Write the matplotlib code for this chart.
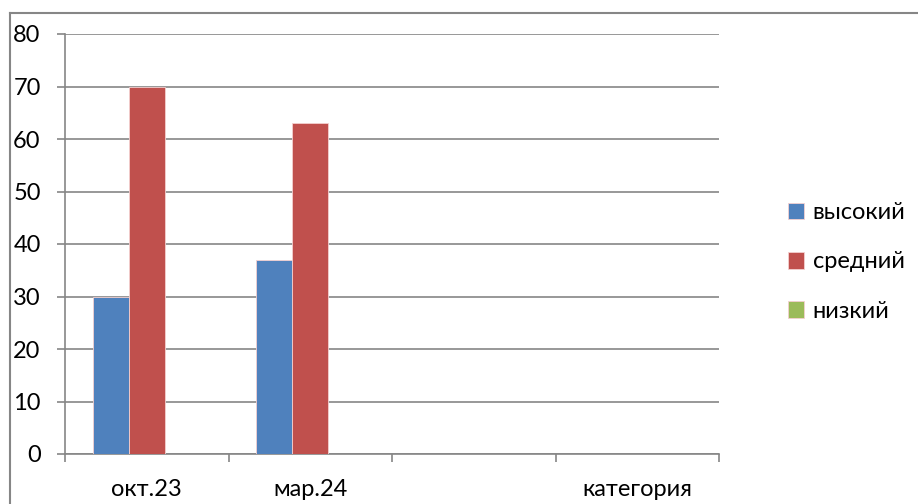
import matplotlib
matplotlib.use("Agg")
import matplotlib.pyplot as plt
from matplotlib.lines import Line2D
import numpy as np

categories = ["окт.23", "мар.24", "", "категория"]
series_names = ["высокий", "средний", "низкий"]
vysokiy = [30, 37, 0, 0]
sredniy = [70, 63, 0, 0]
nizkiy = [0, 0, 0, 0]
yticks = [0, 10, 20, 30, 40, 50, 60, 70, 80]

colors = ["#4F81BD", "#C0504D", "#9BBB59"]
gray = "#868686"

plt.rcParams['font.family'] = ['Lato', 'DejaVu Sans']
FS = 17

W, H = 918, 504
fig = plt.figure(figsize=(W / 100, H / 100), dpi=100)
ax = fig.add_axes([65 / W, (H - 454) / H, (719 - 65) / W, (454 - 34) / H])

x = np.arange(len(categories))
w = 0.22
handles = []
for i, (vals, name) in enumerate(zip([vysokiy, sredniy, nizkiy], series_names)):
    b = ax.bar(x + (i - 1) * w, vals, width=w, color=colors[i],
               edgecolor="#f4d0d0", linewidth=0.6, label=name, zorder=3)
    handles.append(b)

ax.set_xlim(-0.5, len(categories) - 0.5)
ax.set_ylim(0, 80)
ax.set_yticks(yticks)
ax.set_yticklabels([str(v) for v in yticks], fontsize=FS)
ax.yaxis.grid(True, color=gray, linewidth=1.2, zorder=0)
ax.set_axisbelow(True)
ax.tick_params(axis='y', length=6, width=1.2, color=gray, pad=11.5)

ax.set_xticks(x)
ax.set_xticklabels(categories, fontsize=FS)
ax.set_xticks(np.arange(len(categories) + 1) - 0.5, minor=True)
ax.tick_params(axis='x', which='major', length=0, pad=18)
ax.tick_params(axis='x', which='minor', length=6, width=1.2, color=gray)

for s in ["top", "right"]:
    ax.spines[s].set_visible(False)
for s in ["left", "bottom"]:
    ax.spines[s].set_color(gray)
    ax.spines[s].set_linewidth(1.2)

leg = fig.legend(handles=handles, labels=series_names, loc="center left",
                 bbox_to_anchor=(776 / W, 1 - 262 / H), frameon=False,
                 fontsize=FS, handlelength=0.7, handleheight=0.7,
                 handletextpad=0.35, labelspacing=1.2, borderpad=0)

# outer chart border (only top and left visible)
fig.add_artist(Line2D([10 / W, 10 / W], [0, 1 - 13 / H], transform=fig.transFigure,
                      color=gray, linewidth=1.5))
fig.add_artist(Line2D([10 / W, 1], [1 - 13 / H, 1 - 13 / H], transform=fig.transFigure,
                      color=gray, linewidth=1.5))

fig.savefig("out.png", dpi=100)
